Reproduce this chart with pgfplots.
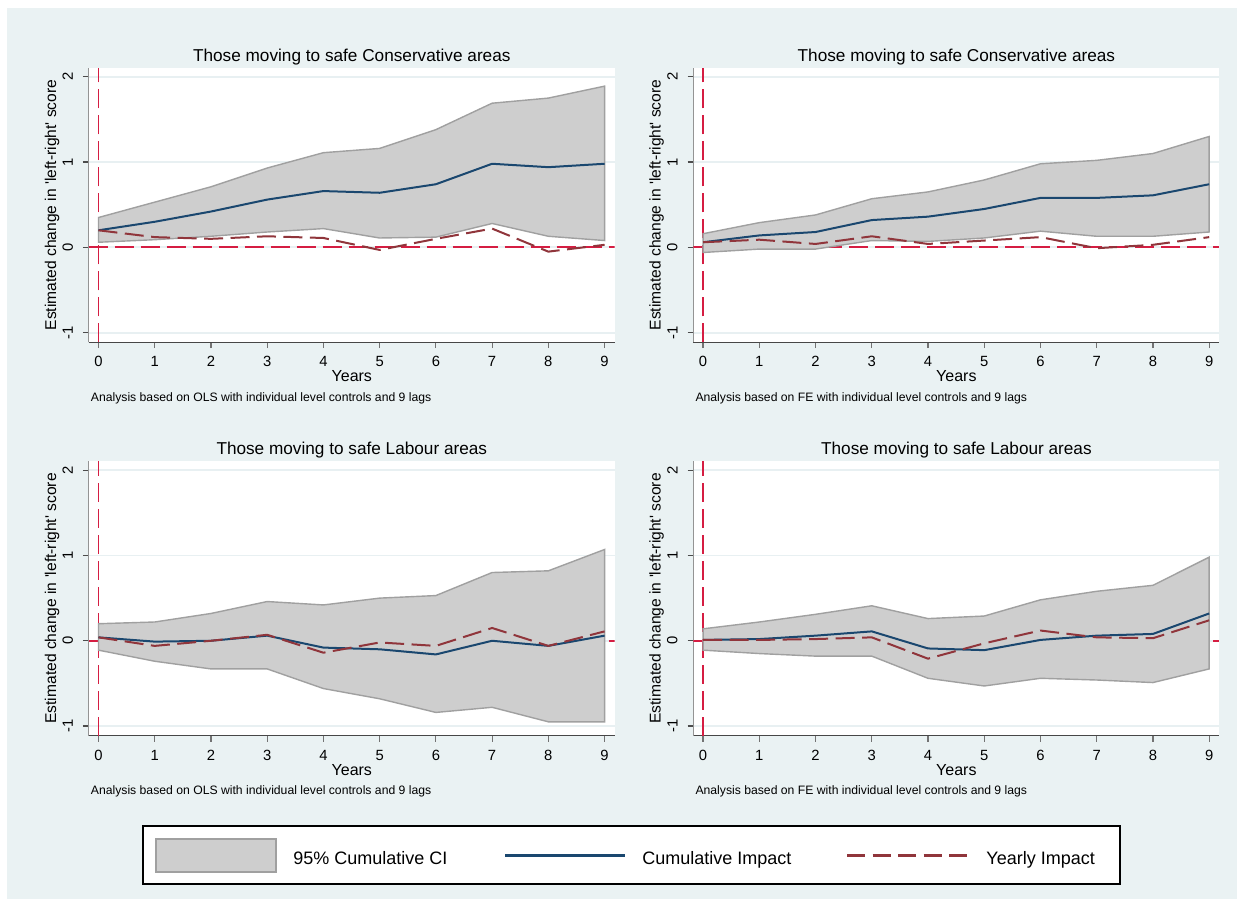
\documentclass[border=0pt]{standalone}
\usepackage{pgfplots}
\pgfplotsset{compat=1.18}
\usepackage{fontspec}
\setmainfont{Liberation Sans}
\definecolor{bgc}{RGB}{234,242,243}
\definecolor{gridc}{RGB}{232,240,242}
\definecolor{cigray}{RGB}{206,206,206}
\definecolor{cioutline}{RGB}{160,160,160}
\definecolor{navyc}{RGB}{26,71,111}
\definecolor{maroonc}{RGB}{144,53,59}
\definecolor{refc}{RGB}{213,29,66}

\pgfplotsset{
  panel/.style={
    scale only axis, width=263pt, height=137.25pt,
    xmin=-0.174, xmax=9.18, ymin=-1.113, ymax=2.105,
    axis x line*=bottom, axis y line*=left,
    axis line style={-},
    x axis line style={black!72, line width=0.65pt},
    y axis line style={black!42, line width=0.65pt},
    axis background/.style={fill=white},
    xtick={0,...,9}, ytick={-1,0,1,2},
    tick align=outside, major tick length=2.9pt,
    xtick style={black!55, line width=0.6pt},
    ytick style={black!70, line width=0.6pt},
    ymajorgrids, major grid style={gridc, line width=0.9pt},
    /pgf/number format/assume math mode=true,
    ticklabel style={font=\fontsize{7.4}{8}\selectfont, text=black},
    xticklabel style={anchor=base, yshift=-9.3pt},
    yticklabel style={rotate=90, anchor=south, inner sep=0pt},
    yticklabel shift=4.8pt,
  },
}
\tikzset{
  ci/.style={fill=cigray, draw=cioutline, line width=0.7pt},
  cum/.style={navyc, line width=1pt},
  yr/.style={maroonc, line width=1pt, dash pattern=on 9.5pt off 3.75pt},
  refl/.style={refc, line width=0.9pt, dash pattern=on 9.5pt off 3.5pt},
}

\pgfplotstableread{
x cum yr
0 0.20 0.20
1 0.30 0.12
2 0.42 0.10
3 0.56 0.13
4 0.66 0.11
5 0.64 -0.03
6 0.74 0.10
7 0.98 0.22
8 0.94 -0.05
9 0.98 0.03
}\tA
\pgfplotstableread{
x cum yr
0 0.06 0.06
1 0.14 0.09
2 0.18 0.04
3 0.32 0.13
4 0.36 0.04
5 0.45 0.08
6 0.58 0.12
7 0.58 -0.01
8 0.61 0.03
9 0.74 0.12
}\tB
\pgfplotstableread{
x cum yr
0 0.04 0.04
1 -0.01 -0.06
2 0.00 0.00
3 0.06 0.07
4 -0.08 -0.14
5 -0.10 -0.02
6 -0.16 -0.06
7 0.00 0.15
8 -0.06 -0.06
9 0.06 0.11
}\tC
\pgfplotstableread{
x cum yr
0 0.01 0.01
1 0.02 0.01
2 0.06 0.02
3 0.11 0.04
4 -0.09 -0.21
5 -0.11 -0.03
6 0.01 0.12
7 0.06 0.04
8 0.08 0.03
9 0.32 0.24
}\tD

\begin{document}
\begin{tikzpicture}
\useasboundingbox (0,0) rectangle (622pt,-453.5pt);
\fill[white] (0,0) rectangle (622pt,-453.5pt);
\fill[bgc] (3.5pt,-4pt) rectangle (618.5pt,-449.5pt);

% Panel 1
\begin{axis}[panel, at={(44.35pt,-171.15pt)}, anchor=south west]
\draw[refl] (axis cs:-0.174,0) -- (axis cs:9.18,0);
\draw[refl] (axis cs:0,-1.113) -- (axis cs:0,2.105);
\addplot[ci] coordinates {(0,0.35) (1,0.53) (2,0.71) (3,0.93) (4,1.11) (5,1.16) (6,1.38) (7,1.69) (8,1.75) (9,1.89)
 (9,0.08) (8,0.13) (7,0.28) (6,0.12) (5,0.11) (4,0.22) (3,0.18) (2,0.13) (1,0.09) (0,0.06)} -- cycle;
\addplot[cum] table[x=x,y=cum] {\tA};
\addplot[yr] table[x=x,y=yr] {\tA};
\end{axis}

% Panel 2
\begin{axis}[panel, at={(346.65pt,-171.15pt)}, anchor=south west]
\draw[refl] (axis cs:-0.174,0) -- (axis cs:9.18,0);
\draw[refl] (axis cs:0,-1.113) -- (axis cs:0,2.105);
\addplot[ci] coordinates {(0,0.16) (1,0.29) (2,0.38) (3,0.57) (4,0.65) (5,0.79) (6,0.98) (7,1.02) (8,1.10) (9,1.30)
 (9,0.18) (8,0.13) (7,0.13) (6,0.19) (5,0.11) (4,0.07) (3,0.08) (2,-0.02) (1,-0.02) (0,-0.06)} -- cycle;
\addplot[cum] table[x=x,y=cum] {\tB};
\addplot[yr] table[x=x,y=yr] {\tB};
\end{axis}

% Panel 3
\begin{axis}[panel, at={(44.35pt,-367.85pt)}, anchor=south west]
\draw[refl] (axis cs:-0.174,0) -- (axis cs:9.18,0);
\draw[refl] (axis cs:0,-1.113) -- (axis cs:0,2.105);
\addplot[ci] coordinates {(0,0.20) (1,0.22) (2,0.32) (3,0.46) (4,0.42) (5,0.50) (6,0.53) (7,0.80) (8,0.82) (9,1.07)
 (9,-0.95) (8,-0.95) (7,-0.78) (6,-0.84) (5,-0.68) (4,-0.56) (3,-0.33) (2,-0.33) (1,-0.24) (0,-0.11)} -- cycle;
\addplot[cum] table[x=x,y=cum] {\tC};
\addplot[yr] table[x=x,y=yr] {\tC};
\end{axis}

% Panel 4
\begin{axis}[panel, at={(346.65pt,-367.85pt)}, anchor=south west]
\draw[refl] (axis cs:-0.174,0) -- (axis cs:9.18,0);
\draw[refl] (axis cs:0,-1.113) -- (axis cs:0,2.105);
\addplot[ci] coordinates {(0,0.14) (1,0.22) (2,0.31) (3,0.41) (4,0.26) (5,0.29) (6,0.48) (7,0.58) (8,0.65) (9,0.98)
 (9,-0.33) (8,-0.49) (7,-0.46) (6,-0.44) (5,-0.53) (4,-0.44) (3,-0.18) (2,-0.18) (1,-0.15) (0,-0.11)} -- cycle;
\addplot[cum] table[x=x,y=cum] {\tD};
\addplot[yr] table[x=x,y=yr] {\tD};
\end{axis}

% Texts
\foreach \dx/\dy/\ttl/\est in {0pt/0pt/Conservative/OLS, 302.3pt/0pt/Conservative/FE, 0pt/-196.7pt/Labour/OLS, 302.3pt/-196.7pt/Labour/FE}{
  \begin{scope}[shift={(\dx,\dy)}]
    \node[anchor=base, inner sep=0pt, font=\fontsize{8.6}{10}\selectfont] at (175.9pt,-30.5pt) {Those moving to safe \ttl{} areas};
    \node[anchor=base, rotate=90, inner sep=0pt, font=\fontsize{7.8}{9}\selectfont] at (28pt,-102.5pt) {Estimated change in \textquotesingle left-right\textquotesingle{} score};
    \node[anchor=base, inner sep=0pt, font=\fontsize{8}{9}\selectfont] at (175.9pt,-190.85pt) {Years};
    \node[anchor=base west, inner sep=0pt, font=\fontsize{6.1}{7}\selectfont] at (45.25pt,-200.65pt) {Analysis based on \est{} with individual level controls and 9 lags};
  \end{scope}
}

% Legend
\draw[black, line width=0.6pt, fill=white] (71.5pt,-413pt) rectangle (560pt,-442pt);
\draw[ci] (78pt,-419.5pt) rectangle (138pt,-436pt);
\node[anchor=base west, inner sep=0pt, font=\fontsize{9}{10}\selectfont] at (146.5pt,-432pt) {95\% Cumulative CI};
\draw[navyc, line width=1.35pt] (252.5pt,-427.75pt) -- (312.5pt,-427.75pt);
\node[anchor=base west, inner sep=0pt, font=\fontsize{9}{10}\selectfont] at (321pt,-432pt) {Cumulative Impact};
\draw[maroonc, line width=1.2pt, dash pattern=on 9pt off 3.75pt] (423.5pt,-427.75pt) -- (483.5pt,-427.75pt);
\node[anchor=base west, inner sep=0pt, font=\fontsize{9}{10}\selectfont] at (493pt,-432pt) {Yearly Impact};
\end{tikzpicture}
\end{document}
